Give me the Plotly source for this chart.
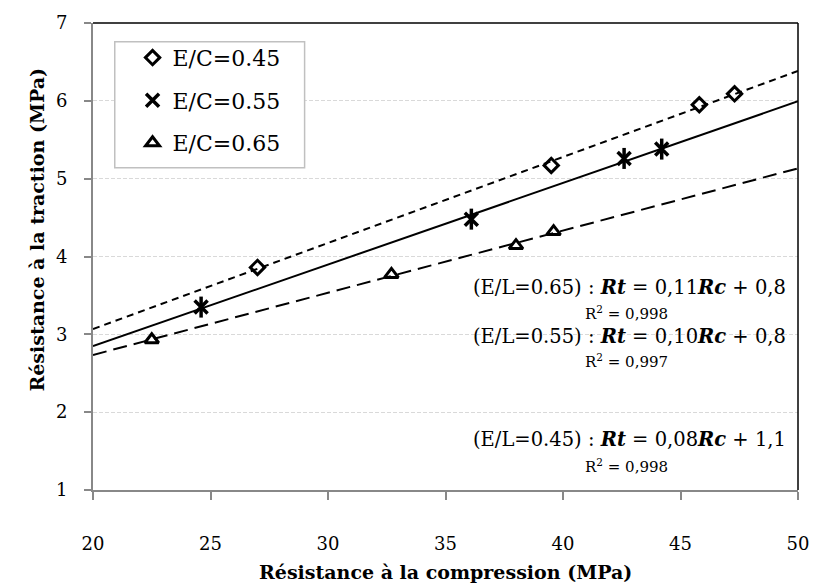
import numpy as np
import plotly.graph_objects as go

# ---- data ----
rc_045 = [27.0, 39.5, 45.8, 47.3]
rt_045 = [3.86, 5.17, 5.95, 6.09]
rc_055 = [24.6, 36.1, 42.6, 44.2]
rt_055 = [3.35, 4.48, 5.26, 5.38]
rc_065 = [22.5, 32.7, 38.0, 39.6]
rt_065 = [2.93, 3.77, 4.14, 4.32]
series_names = ["E/C=0.45", "E/C=0.55", "E/C=0.65"]
eq_labels = [
    "(E/L=0.65) : <b><i>Rt</i></b> = 0,11<b><i>Rc</i></b> + 0,8",
    "(E/L=0.55) : <b><i>Rt</i></b> = 0,10<b><i>Rc</i></b> + 0,8",
    "(E/L=0.45) : <b><i>Rt</i></b> = 0,08<b><i>Rc</i></b> + 1,1",
]
r2_labels = ["R<sup>2</sup> = 0,998", "R<sup>2</sup> = 0,997", "R<sup>2</sup> = 0,998"]
x_title = "Résistance à la compression (MPa)"
y_title = "Résistance à la traction (MPa)"
x_range = [20, 50]
y_range = [1, 7]

FONT = "DejaVu Serif"
W, H = 821, 586
ML, MR, MT, MB = 93, 15, 16, 96
PW, PH = W - ML - MR, H - MT - MB


def px(xp):
    return (xp - ML) / PW


def py(yp):
    return (H - MB - yp) / PH


fig = go.Figure()

# trend lines (least squares fits of each series)
dashes = ["7px,5px", "solid", "14px,7px"]
for xs, ys, d in [(rc_045, rt_045, dashes[0]), (rc_055, rt_055, dashes[1]), (rc_065, rt_065, dashes[2])]:
    a, b = np.polyfit(xs, ys, 1)
    xx = np.array(x_range, dtype=float)
    fig.add_trace(go.Scatter(x=xx, y=a * xx + b, mode="lines", showlegend=False,
                             line=dict(color="black", width=2, dash=d), hoverinfo="skip"))

# markers
fig.add_trace(go.Scatter(x=rc_045, y=rt_045, mode="markers", name=series_names[0], legendgroup="a",
                         marker=dict(symbol="diamond-open", size=11, color="black", line=dict(width=3, color="black"))))
fig.add_trace(go.Scatter(x=rc_055, y=rt_055, mode="markers", name=series_names[1], legendgroup="b",
                         marker=dict(symbol="x-thin-open", size=13, color="black", line=dict(width=3.5, color="black"))))
fig.add_trace(go.Scatter(x=rc_055, y=rt_055, mode="markers", showlegend=False, legendgroup="b",
                         marker=dict(symbol="line-ns-open", size=15, color="black", line=dict(width=3.5, color="black"))))
fig.add_trace(go.Scatter(x=rc_065, y=rt_065, mode="markers", name=series_names[2], legendgroup="c",
                         marker=dict(symbol="triangle-up-open", size=12, color="black", line=dict(width=3, color="black"))))

# equation annotations
eq_yp = [284, 334, 439]
r2_yp = [310, 359, 466]
for t, yp in zip(eq_labels, eq_yp):
    fig.add_annotation(x=px(636), xref="paper", y=py(yp), yref="paper", text=t, showarrow=False,
                       xanchor="center", yanchor="middle", font=dict(family=FONT, size=19.5, color="black"))
for t, yp in zip(r2_labels, r2_yp):
    fig.add_annotation(x=px(633), xref="paper", y=py(yp), yref="paper", text=t, showarrow=False,
                       xanchor="center", yanchor="middle", font=dict(family=FONT, size=15, color="black"))

# axis titles
fig.add_annotation(x=px(449), xref="paper", y=py(573), yref="paper", text="<b>" + x_title + "</b>",
                   showarrow=False, xanchor="center", yanchor="middle",
                   font=dict(family=FONT, size=19, color="black"))
fig.add_annotation(x=px(36), xref="paper", y=py(226), yref="paper", text="<b>" + y_title + "</b>",
                   showarrow=False, xanchor="center", yanchor="middle", textangle=-90,
                   font=dict(family=FONT, size=19, color="black"))

# legend box
fig.add_shape(type="rect", xref="paper", yref="paper", x0=px(115), x1=px(307), y0=py(163), y1=py(35),
              line=dict(color="#c0c0c0", width=1.5), fillcolor="white", layer="above")

# top and right black border
fig.add_shape(type="line", xref="x domain", yref="y domain", x0=0, x1=1, y0=1, y1=1,
              line=dict(color="black", width=1.5), layer="above")
fig.add_shape(type="line", xref="x domain", yref="y domain", x0=1, x1=1, y0=0, y1=1,
              line=dict(color="black", width=1.5), layer="above")

fig.update_layout(
    width=W, height=H,
    margin=dict(l=ML, r=MR, t=MT, b=MB),
    plot_bgcolor="white", paper_bgcolor="white",
    font=dict(family=FONT, size=16, color="black"),
    showlegend=True,
    legend=dict(x=px(133), y=py(30), xanchor="left", yanchor="top",
                bgcolor="rgba(0,0,0,0)", borderwidth=0,
                font=dict(family=FONT, size=22, color="black"),
                tracegroupgap=11, traceorder="grouped", itemwidth=30),
    xaxis=dict(range=x_range, dtick=5, showgrid=False, zeroline=False,
               showline=True, linecolor="#888888", linewidth=2,
               ticks="outside", ticklen=8, tickcolor="#888888", tickwidth=1.5,
               ticklabelstandoff=28,
               tickfont=dict(family=FONT, size=18, color="black")),
    yaxis=dict(range=y_range, dtick=1, showgrid=True, gridcolor="#d9d9d9", griddash="4px,2px", gridwidth=1,
               zeroline=False, showline=True, linecolor="#888888", linewidth=2,
               ticks="outside", ticklen=7, tickcolor="#888888", tickwidth=1.5,
               ticklabelstandoff=13,
               tickfont=dict(family=FONT, size=18, color="black")),
)

fig.write_html("out.html")
